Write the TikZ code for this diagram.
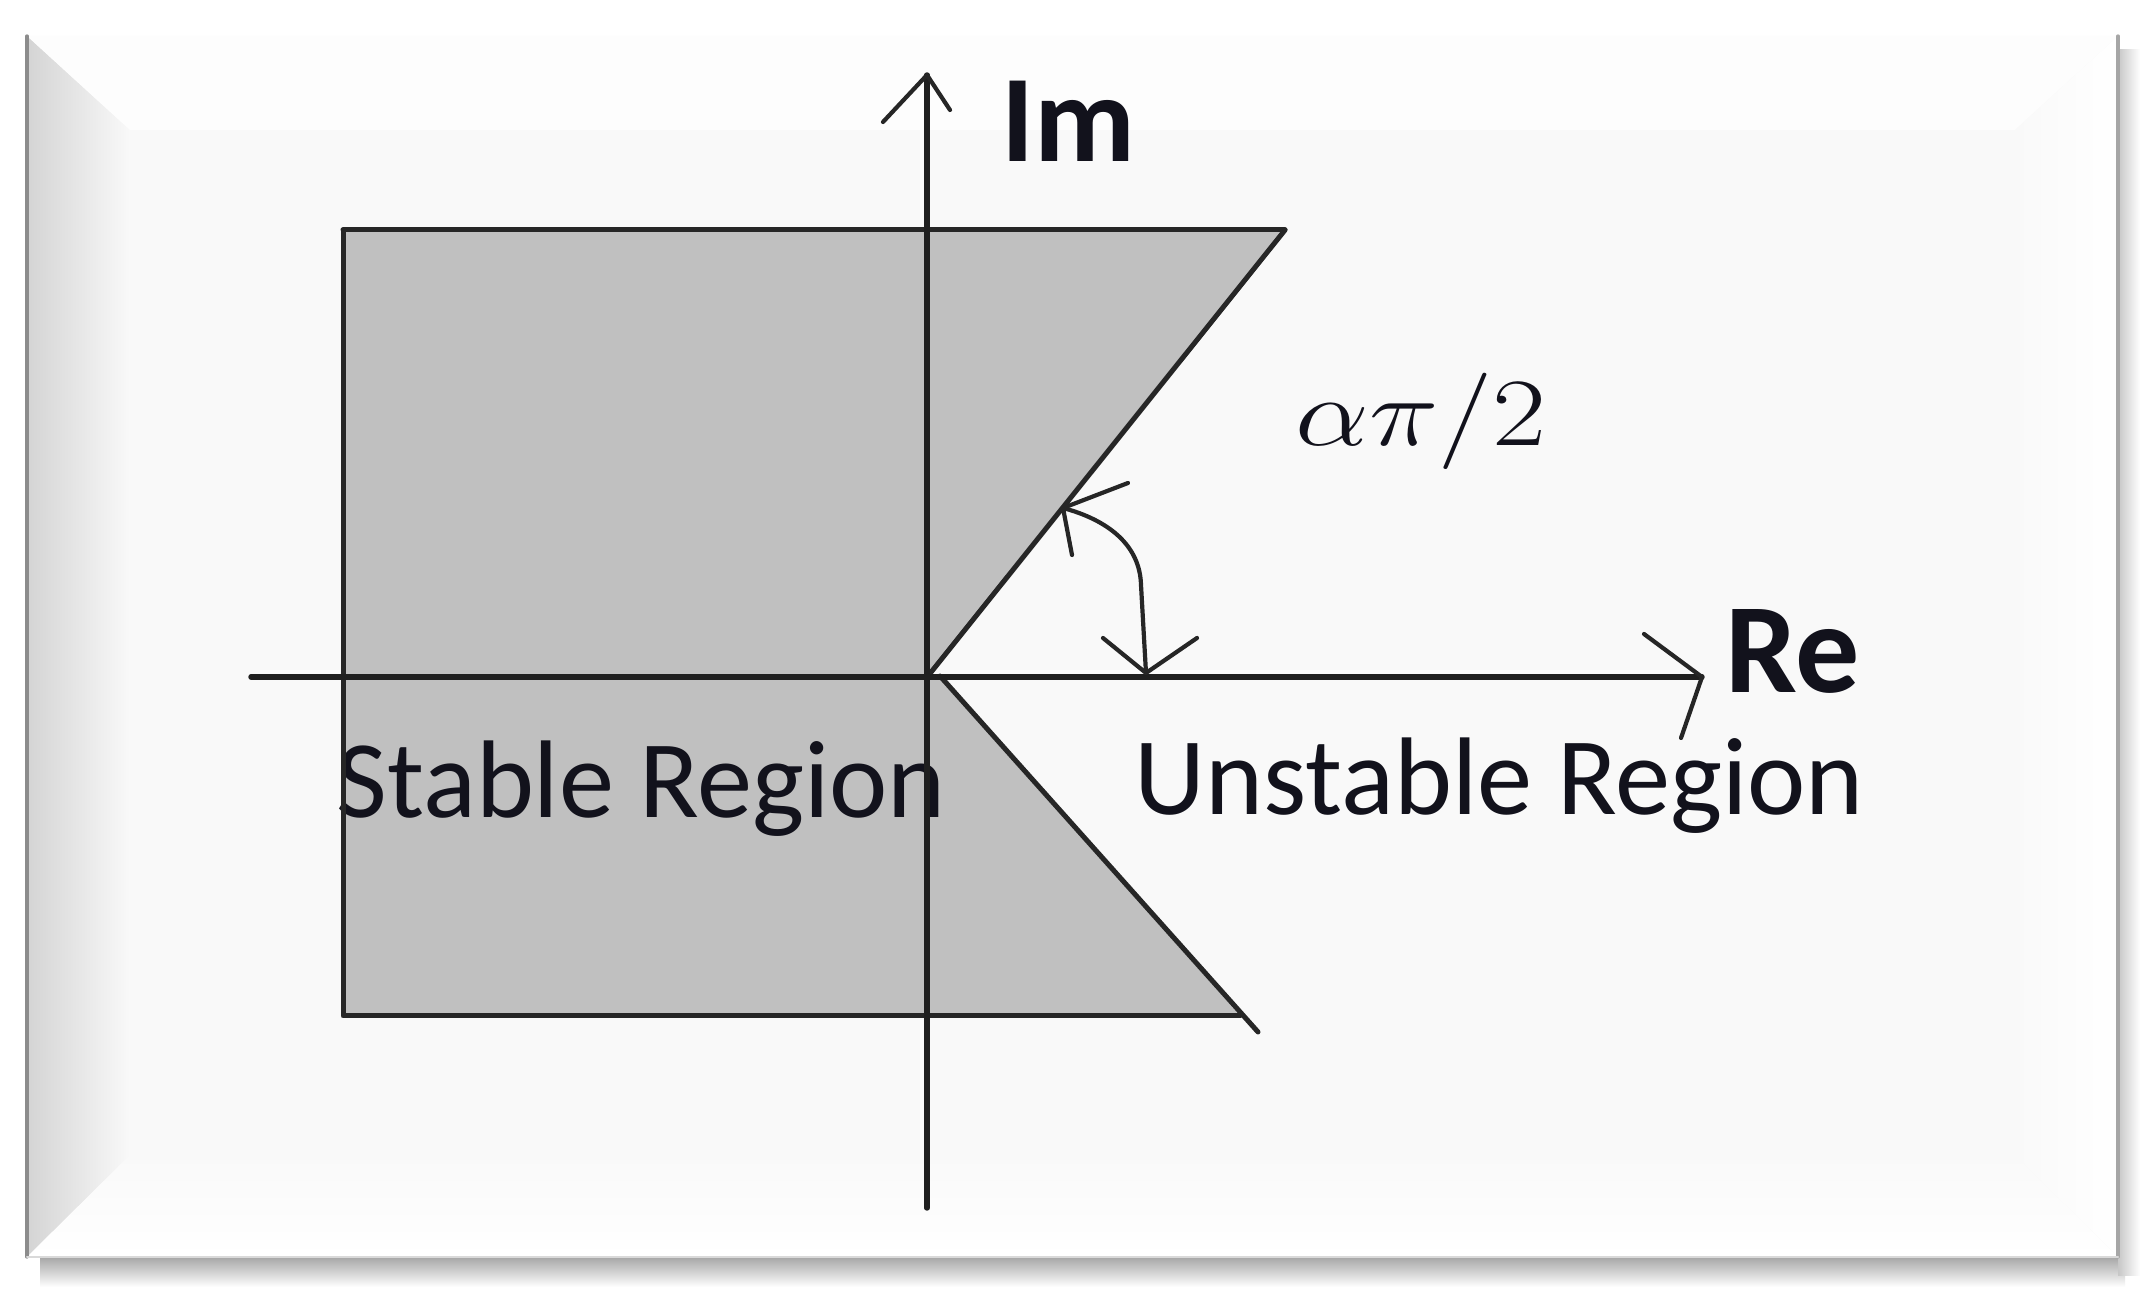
\documentclass[tikz,border=0pt]{standalone}
\usepackage{fontspec}
\setmainfont{Carlito}
\definecolor{face}{HTML}{F9F9F9}
\definecolor{bevL}{HTML}{D4D4D4}
\definecolor{regfill}{HTML}{C0C0C0}
\definecolor{txt}{HTML}{12121C}
\begin{document}
\begin{tikzpicture}[x=0.25pt,y=-0.25pt, line cap=round, line join=round,
  axis/.style={line width=1.35pt, draw=black!88},
  edge/.style={line width=1.25pt, draw=black!85},
  tipline/.style={line width=1.05pt, draw=black!85},
  lbl/.style={inner sep=0pt, text=txt}]
\useasboundingbox (0,0) rectangle (2153,1292);
\fill[white] (0,0) rectangle (2153,1292);
% shadow
\shade[top color=black!35, bottom color=white] (40,1257) rectangle (2125,1287);
\shade[left color=black!22, right color=white] (2118,50) rectangle (2140,1275);
% bevelled frame
\fill[face] (27,36) rectangle (2118,1257);
\shade[left color=bevL, right color=face] (27,36) -- (130,130) -- (130,1155) -- (27,1257) -- cycle;
\fill[white!60!face] (27,36) -- (2118,36) -- (2015,130) -- (130,130) -- cycle;
\shade[left color=face, right color=white] (2118,36) -- (2118,1257) -- (2015,1155) -- (2015,130) -- cycle;
\shade[top color=face, bottom color=white] (27,1257) -- (130,1155) -- (2015,1155) -- (2118,1257) -- cycle;
\draw[black!45, line width=0.8pt] (27,36) -- (27,1257);
\draw[black!35, line width=0.8pt] (2118,36) -- (2118,1257);
\draw[black!15, line width=0.5pt] (27,1257) -- (2118,1257);
% region
\coordinate (tl) at (343,230);
\coordinate (tr) at (1285,230);
\coordinate (bl) at (343,1016);
\coordinate (br) at (1240,1016);
\coordinate (O) at (928,676);
\coordinate (O2) at (940,676);
\coordinate (lowend) at (1258,1032);
\fill[regfill] (tl) -- (tr) -- (O) -- (O2) -- (br) -- (bl) -- cycle;
% labels
\node[lbl, anchor=base west, font=\fontsize{27.6}{32}\selectfont] (st) at (336,818) {Stable Region};
\node[lbl, anchor=base west, font=\fontsize{27.6}{32}\selectfont] (un) at (1134,815) {Unstable Region};
\node[lbl, font=\fontsize{31}{34}\selectfont\bfseries] (im) at (1068,121) {Im};
\node[lbl, font=\fontsize{32}{35}\selectfont\bfseries] (re) at (1793,651) {Re};
\node[lbl, font=\fontsize{24}{28}\selectfont] (ang) at (1421,421) {\scalebox{1.18}[0.97]{$\alpha\pi/2$}};
% region edges
\draw[edge] (tl) -- (tr);
\draw[edge] (tl) -- (bl) -- (br);
\draw[edge] (O) -- (tr);
\draw[edge] (O2) -- (lowend);
% axes
\coordinate (ytop) at (927,75);
\coordinate (ybot) at (927,1208);
\coordinate (xl) at (251,677);
\coordinate (xr) at (1702,677);
\draw[axis] (ybot) -- (ytop);
\draw[axis] (xl) -- (xr);
\coordinate (yb1) at (883,122);
\coordinate (yb2) at (950,110);
\draw[tipline] (yb1) -- (ytop) -- (yb2);
\coordinate (xb1) at (1644,634);
\coordinate (xb2) at (1681,738);
\draw[tipline] (xb1) -- (xr) -- (xb2);
% angle arrow
\coordinate (A) at (1063,508);
\coordinate (B) at (1146,673);
\draw[tipline] (A) .. controls (1108,520) and (1140,545) .. (1141,585) -- (B);
\coordinate (a1) at (1128,483);
\coordinate (a2) at (1072,555);
\draw[tipline] (a1) -- (A) -- (a2);
\coordinate (b1) at (1103,638);
\coordinate (b2) at (1197,638);
\draw[tipline] (b1) -- (B) -- (b2);
\end{tikzpicture}
\end{document}
